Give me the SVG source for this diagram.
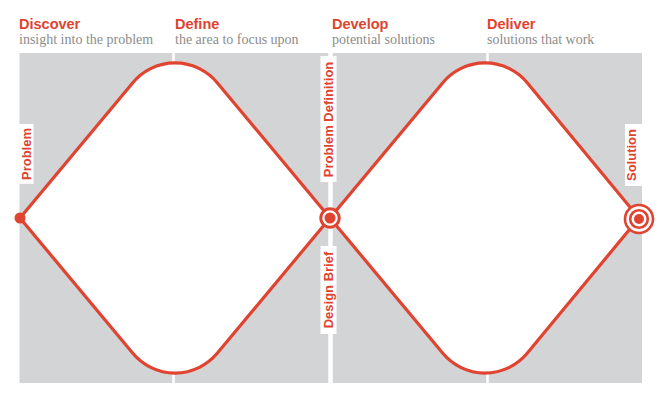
<svg xmlns="http://www.w3.org/2000/svg" width="660" height="400" viewBox="0 0 660 400">
<style>
.h{font-family:"Liberation Sans",Arial,sans-serif;font-weight:bold;font-size:14.5px;fill:#e0432f}
.s{font-family:"Liberation Serif","Times New Roman",serif;font-size:14px;fill:#8c8c8c}
.v{font-family:"Liberation Sans",Arial,sans-serif;font-weight:bold;font-size:13px;fill:#e0432f;text-anchor:middle}
.d{fill:#fff;stroke:#e0432f;stroke-width:3.2;stroke-linejoin:round}
.sep{stroke:#fff;fill:none}
.lb{fill:#fff}
.r{fill:none;stroke:#e0432f}
.dot{fill:#e0432f}
</style>
<rect width="660" height="400" fill="#fff"/>
<g id="background">
<rect x="19.5" y="53" width="622.5" height="330" fill="#d3d4d5"/>
<line class="sep" x1="173.5" y1="48" x2="173.5" y2="383" stroke-width="2.5"/>
<line class="sep" x1="330.5" y1="53" x2="330.5" y2="383" stroke-width="4.5"/>
<line class="sep" x1="487.5" y1="48" x2="487.5" y2="383" stroke-width="2.5"/>
</g>
<g id="headers">
<text class="h" x="19" y="29">Discover</text>
<text class="s" x="19" y="44">insight into the problem</text>
<text class="h" x="175" y="29">Define</text>
<text class="s" x="175" y="44">the area to focus upon</text>
<text class="h" x="332" y="29">Develop</text>
<text class="s" x="332" y="44">potential solutions</text>
<text class="h" x="487" y="29">Deliver</text>
<text class="s" x="487" y="44">solutions that work</text>
</g>
<g id="connectors">
<path id="diamond-discover-define" class="d" d="M20,218 L132.8,82.7 A55,55 0 0 1 217.2,82.7 L330,218 L217.2,353.3 A55,55 0 0 1 132.8,353.3 Z"/>
<path id="diamond-develop-deliver" class="d" d="M330,218 L442.8,82.7 A55,55 0 0 1 527.2,82.7 L639,218 L527.2,353.3 A55,55 0 0 1 442.8,353.3 Z"/>
</g>
<g id="problem">
<rect class="lb" x="17.5" y="124" width="16" height="60"/>
<text class="v" transform="translate(31,154) rotate(-90)">Problem</text>
<circle class="dot" cx="20" cy="218" r="5.5"/>
</g>
<g id="problem-definition">
<rect class="lb" x="320.5" y="56" width="16" height="126"/>
<text class="v" transform="translate(333,119.5) rotate(-90)">Problem Definition</text>
</g>
<g id="design-brief">
<rect class="lb" x="320.5" y="246" width="16" height="88"/>
<text class="v" transform="translate(332.5,290) rotate(-90)">Design Brief</text>
</g>
<g id="midpoint">
<circle cx="330" cy="218" r="9.2" fill="#fff" stroke="#e0432f" stroke-width="3"/>
<circle class="dot" cx="330" cy="218" r="5.5"/>
</g>
<g id="solution">
<rect class="lb" x="625" y="124" width="18" height="62"/>
<text class="v" transform="translate(636,155) rotate(-90)">Solution</text>
<circle cx="639" cy="219" r="14" fill="#fff" stroke="#e0432f" stroke-width="2.6"/>
<circle class="r" cx="639" cy="219" r="8.8" stroke-width="2.6"/>
<circle class="dot" cx="639" cy="219" r="5"/>
</g>
</svg>
